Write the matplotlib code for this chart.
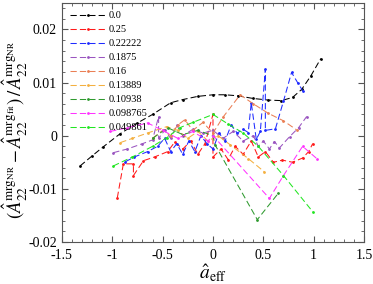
import matplotlib
matplotlib.use('Agg')
from matplotlib import pyplot as plt
from matplotlib.ticker import MultipleLocator

# Data #
labels = ['0.0', '0.25', '0.22222', '0.1875', '0.16', '0.13889', '0.10938', '0.098765', '0.049861']
colors = ['black', '#ff1a1a', '#1f2bff', '#9a55c0', '#ea7f55', '#f4b040', '#2f9a2f', '#ff33ff', '#22e622']

x_00 = [-1.32, -1.2, -1.09, -0.92, -0.75, -0.6, -0.42, -0.3, -0.15, 0.0, 0.12, 0.25, 0.4, 0.55, 0.68, 0.79, 0.88, 0.97, 1.07]
y_00 = [-0.0057, -0.0038, -0.0021, 0.0004, 0.0024, 0.0040, 0.0062, 0.0068, 0.0074, 0.0077, 0.0077, 0.0075, 0.0070, 0.0067, 0.0066, 0.0072, 0.0087, 0.0112, 0.0145]

x_25 = [-0.95, -0.89, -0.79, -0.79, -0.69, -0.58, -0.45, -0.38, -0.30, -0.22, -0.15, -0.08, 0.0, 0.0, 0.08, 0.15, 0.22, 0.3, 0.38, 0.45, 0.52, 0.6, 0.69, 0.79, 0.89, 0.95, 0.99]
y_25 = [-0.0117, -0.0053, -0.0053, -0.0075, -0.0047, -0.0040, -0.0030, -0.0012, -0.0025, -0.0010, -0.0035, -0.0015, 0.0040, -0.0040, -0.0025, -0.0045, -0.0020, -0.0035, -0.0010, -0.0040, -0.0030, -0.0050, -0.0046, -0.0050, -0.0042, -0.0030, -0.0015]

x_22 = [-0.87, -0.78, -0.65, -0.55, -0.48, -0.42, -0.36, -0.3, -0.24, -0.18, -0.12, -0.06, 0.0, 0.06, 0.12, 0.18, 0.24, 0.3, 0.35, 0.38, 0.43, 0.47, 0.52, 0.52, 0.62, 0.7, 0.78, 0.84, 0.89]
y_22 = [-0.0049, -0.0040, -0.0030, -0.0020, -0.0005, -0.0030, -0.0015, -0.0035, -0.0010, -0.0030, 0.0000, -0.0015, -0.0025, 0.0005, -0.0010, 0.0020, 0.0005, 0.0012, 0.0006, 0.0062, -0.0007, 0.0008, 0.0125, 0.0010, 0.0013, 0.0065, 0.0119, 0.0100, 0.0085]

x_18 = [-0.99, -0.85, -0.7, -0.6, -0.54, -0.54, -0.48, -0.42, -0.36, -0.3, -0.2, -0.1, 0.0, 0.1, 0.2, 0.3, 0.4, 0.45, 0.5, 0.56, 0.61, 0.66, 0.76, 0.85, 0.93]
y_18 = [-0.0032, -0.0025, -0.0015, -0.0008, 0.0036, -0.0005, 0.0010, -0.0005, 0.0020, 0.0000, 0.0012, 0.0005, 0.0010, -0.0005, 0.0008, -0.0010, 0.0000, -0.0020, -0.0010, -0.0025, -0.0011, -0.0023, -0.0002, 0.0015, 0.0036]

x_16 = [-0.6, -0.5, -0.42, -0.35, -0.28, -0.2, -0.1, 0.0, 0.1, 0.27, 0.4, 0.55, 0.7, 0.83]
y_16 = [-0.0005, 0.0010, 0.0000, 0.0020, 0.0030, 0.0010, 0.0025, 0.0005, 0.0035, 0.0077, 0.0060, 0.0042, 0.0028, 0.0011]

x_13 = [-0.92, -0.8, -0.65, -0.46, -0.35, -0.25, -0.15, -0.05, 0.05, 0.17, 0.35, 0.51]
y_13 = [-0.0013, -0.0005, 0.0005, 0.0017, 0.0010, -0.0005, 0.0008, -0.0010, 0.0000, -0.0017, -0.0043, -0.0068]

x_10 = [-0.6, -0.45, -0.3, -0.15, 0.0, 0.02, 0.44, 0.65]
y_10 = [-0.0005, 0.0015, 0.0002, 0.0010, 0.0000, -0.0017, -0.0158, -0.0108]

x_09 = [-1.02, -0.85, -0.65, -0.5, -0.35, -0.2, -0.05, 0.0, 0.56, 0.7, 0.89, 1.03]
y_09 = [0.0008, 0.0015, 0.0024, 0.0010, -0.0005, 0.0008, -0.0010, 0.0000, -0.0118, -0.0075, -0.0020, -0.0043]

x_04 = [-0.99, -0.8, -0.6, -0.46, -0.33, -0.2, 0.0, 0.15, 0.3, 0.45, 0.7, 0.99]
y_04 = [-0.0057, -0.0040, -0.0020, -0.0004, 0.0015, 0.0025, 0.0040, 0.0022, 0.0005, -0.0020, -0.0075, -0.0143]

xs = [x_00, x_25, x_22, x_18, x_16, x_13, x_10, x_09, x_04]
ys = [y_00, y_25, y_22, y_18, y_16, y_13, y_10, y_09, y_04]

# Style #
plt.rcParams['font.family'] = 'Liberation Serif'
plt.rcParams['mathtext.fontset'] = 'stix'

fig = plt.figure(figsize=(3.73, 2.84), dpi=100)
ax = fig.add_axes([0.166, 0.148, 0.81, 0.842])

for x, y, c, lab in zip(xs, ys, colors, labels):
    ax.plot(x, y, ls=(0, (6, 3)), color=c, lw=0.75, marker='.', ms=2, label=lab)

ax.set_xlim(-1.5, 1.5)
ax.set_ylim(-0.02, 0.025)
ax.set_xticks([-1.5, -1, -0.5, 0, 0.5, 1, 1.5])
ax.set_xticklabels(['-1.5', '-1', '-0.5', '0', '0.5', '1', '1.5'])
ax.set_yticks([-0.02, -0.01, 0, 0.01, 0.02])
ax.set_yticklabels(['-0.02', '-0.01', '0', '0.01', '0.02'])
ax.xaxis.set_minor_locator(MultipleLocator(0.1))
ax.yaxis.set_minor_locator(MultipleLocator(0.002))
ax.tick_params(which='both', direction='in', top=True, right=True, labelsize=10, color='#555555')
ax.tick_params(which='major', length=4)
ax.tick_params(which='minor', length=2)
ax.tick_params(axis='x', pad=5)
for s in ax.spines.values():
    s.set_color('#555555')

ax.set_xlabel(r'$\hat{a}_{\mathrm{eff}}$', fontsize=14, labelpad=0)
ax.set_ylabel(r'$(\hat{A}_{22}^{\mathrm{mrg}_{\mathrm{NR}}} - \hat{A}_{22}^{\mathrm{mrg}_{\mathrm{fit}}})\,/\,\hat{A}_{22}^{\mathrm{mrg}_{\mathrm{NR}}}$',
              fontsize=13.5)
ax.yaxis.set_label_coords(-0.105, 0.47)

ax.legend(loc='upper left', frameon=False, fontsize=7.5, handlelength=3.4,
          labelspacing=0.45, borderaxespad=0.4, handletextpad=0.3)

fig.savefig('out.png', dpi=100)
